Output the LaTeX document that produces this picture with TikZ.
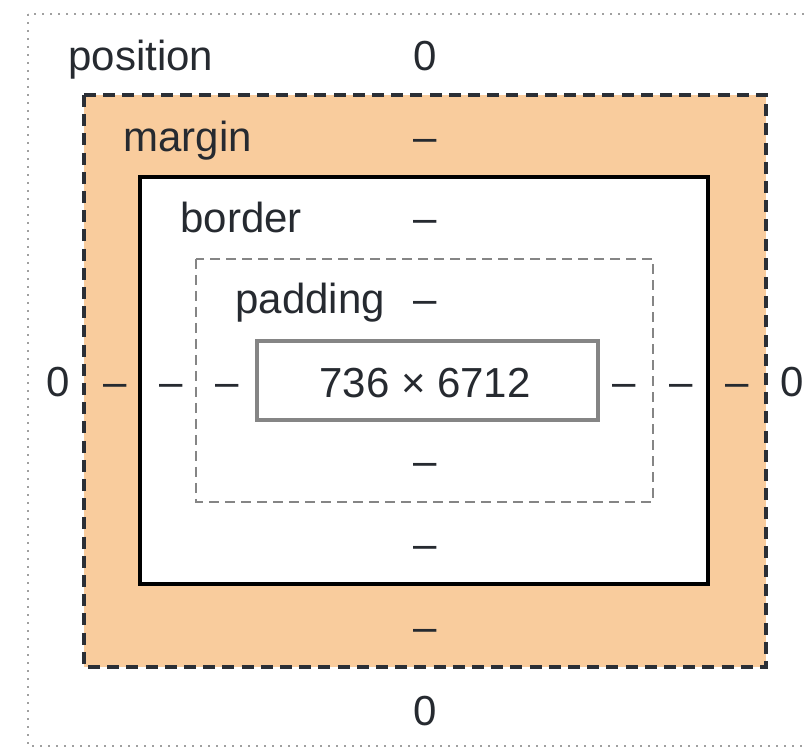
\documentclass[tikz,border=0pt]{standalone}
\usepackage{fontspec}
\setmainfont{Liberation Sans}
\definecolor{marginfill}{HTML}{F9CC9D}
\definecolor{linedark}{HTML}{2B2F36}
\definecolor{linegray}{HTML}{858585}
\definecolor{dotgray}{HTML}{A0A0A0}
\definecolor{textdark}{HTML}{262A30}
\tikzset{
  lbl/.style={inner sep=0pt, anchor=base west, text=textdark, font=\fontsize{21}{25}\selectfont},
  val/.style={inner sep=0pt, anchor=base, text=textdark, font=\fontsize{21}{25}\selectfont},
}
\begin{document}
\begin{tikzpicture}[x=0.5pt, y=-0.5pt]
   \clip (0,0) rectangle (807,747);
   \draw[dotgray, line width=1.1pt, dash pattern=on 1.2pt off 2.8pt] (28,14) rectangle (840,746);
   \draw[linedark, fill=marginfill, line width=1.8pt, dash pattern=on 6pt off 3.6pt] (84,95) rectangle (766,667);
   \draw[black, fill=white, line width=1.7pt] (140,177) rectangle (708,584);
   \draw[linegray, line width=1.4pt, dash pattern=on 5pt off 3pt] (196,259) rectangle (653,502);
   \draw[linegray, line width=1.6pt] (257,341) rectangle (598,420);
   \node[lbl] (posname) at (68,71) {position};
   \node[lbl] (marname) at (123,152) {margin};
   \node[lbl] (borname) at (180,233) {border};
   \node[lbl] (padname) at (235,314) {padding};
   \node[val] (postop) at (425,71) {0};
   \node[val] (martop) at (425,152) {–};
   \node[val] (bortop) at (425,233) {–};
   \node[val] (padtop) at (425,314) {–};
   \node[val] (size) at (425,398) {736 × 6712};
   \node[val] (padbot) at (425,476) {–};
   \node[val] (borbot) at (425,558) {–};
   \node[val] (marbot) at (425,641) {–};
   \node[val] (posbot) at (425,725) {0};
   \node[val] (posleft) at (58,397) {0};
   \node[val] (marleft) at (115,397) {–};
   \node[val] (borleft) at (171,397) {–};
   \node[val] (padleft) at (227,397) {–};
   \node[val] (padright) at (624,397) {–};
   \node[val] (borright) at (681,397) {–};
   \node[val] (marright) at (737,397) {–};
   \node[val] (posright) at (792,397) {0};
\end{tikzpicture}
\end{document}
